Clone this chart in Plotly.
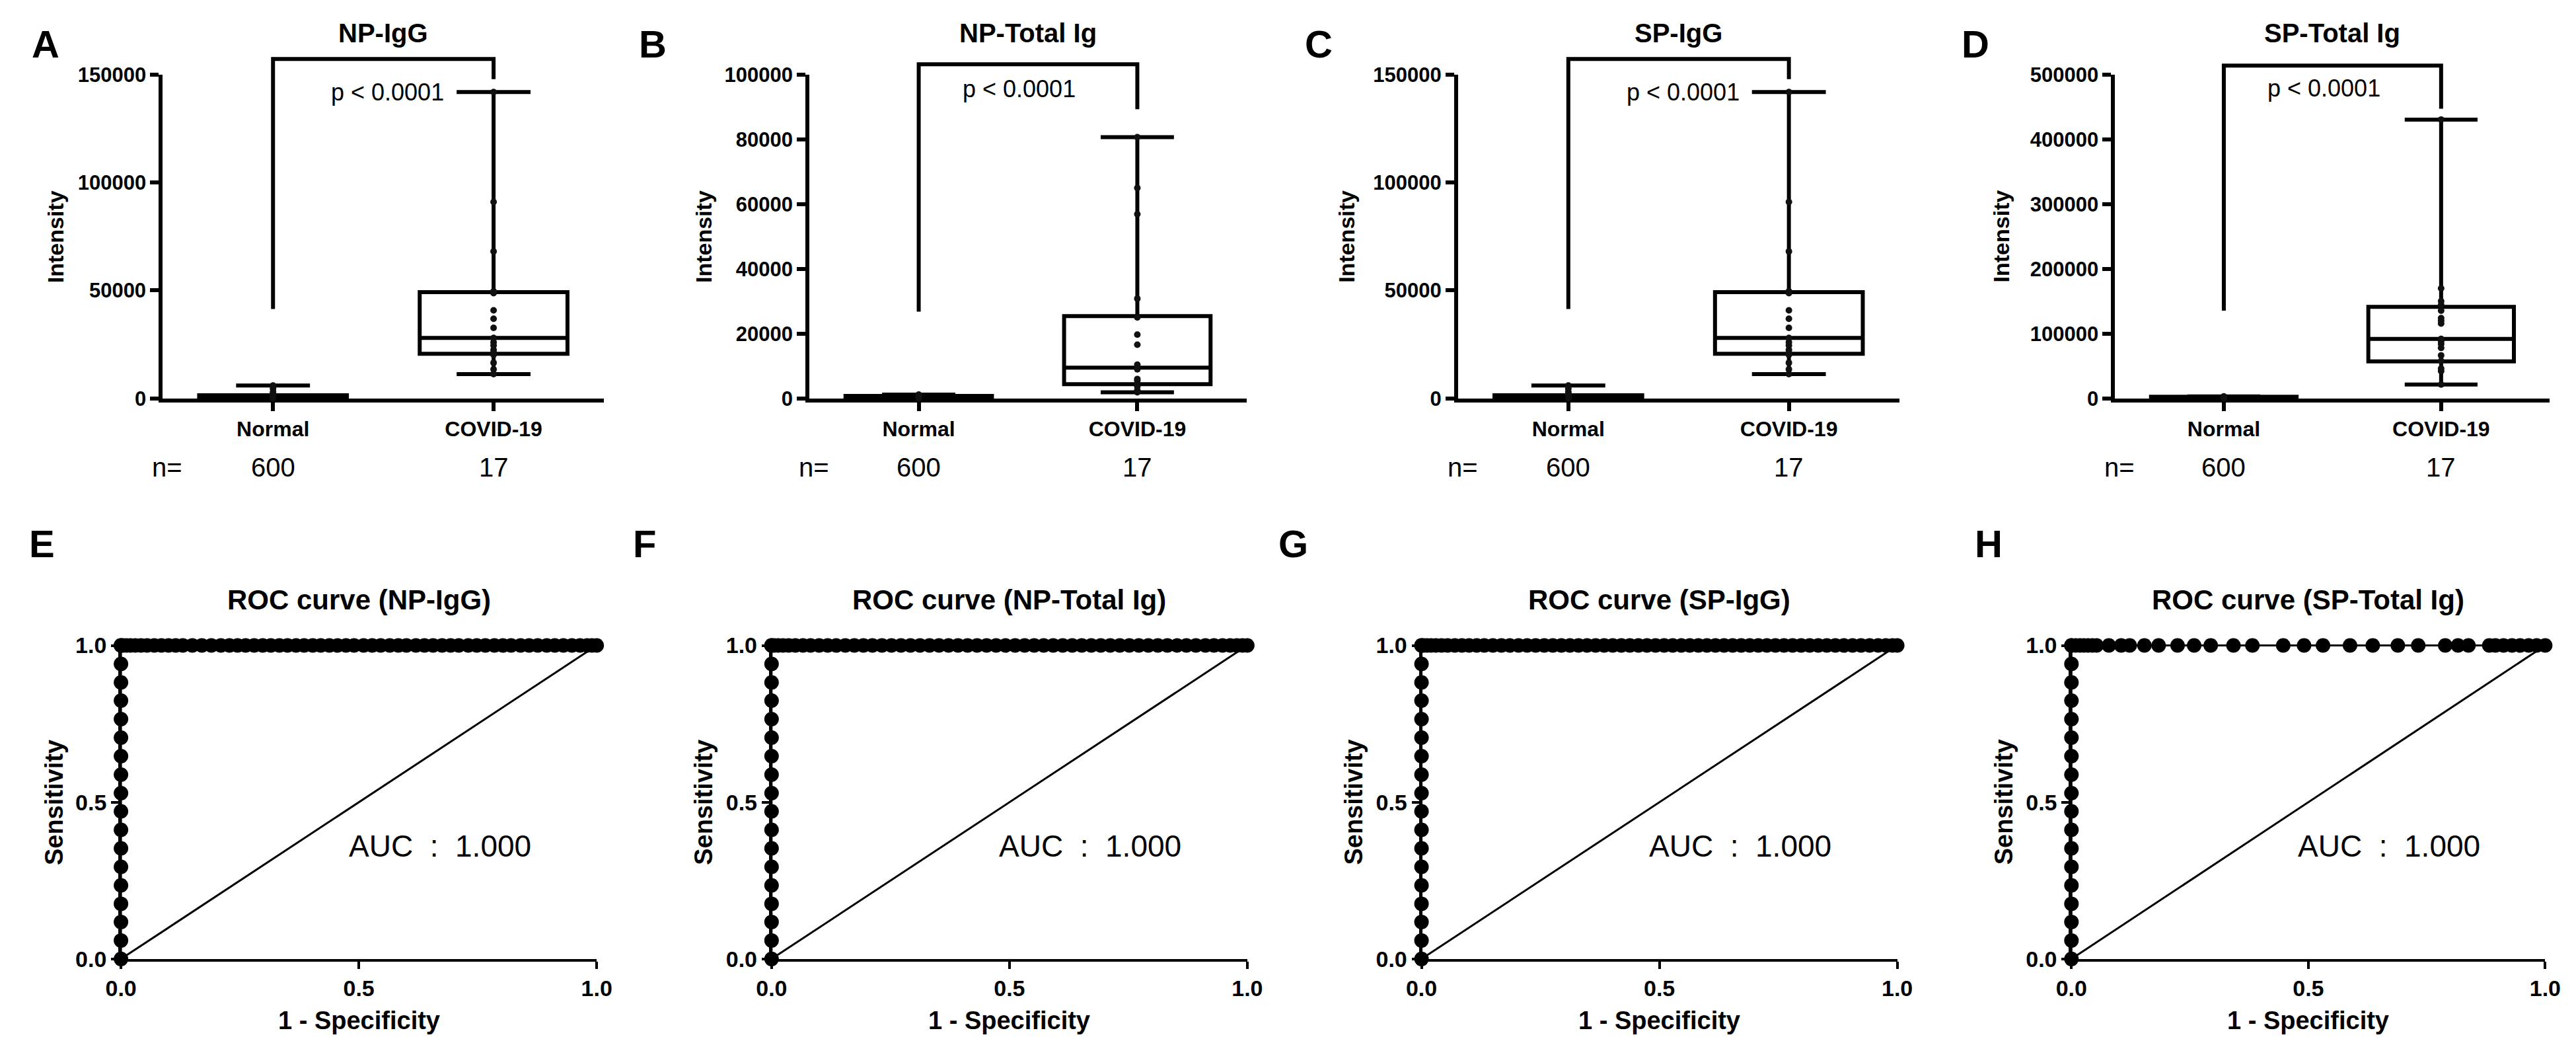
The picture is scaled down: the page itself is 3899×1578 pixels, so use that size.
import plotly.graph_objects as go

W, H = 3899, 1578
FONT = "Liberation Sans, Arial, sans-serif"

categories = ["Normal", "COVID-19"]
group_n = [600, 17]

box_titles = ["NP-IgG", "NP-Total Ig", "SP-IgG", "SP-Total Ig"]
roc_titles = ["ROC curve (NP-IgG)", "ROC curve (NP-Total Ig)", "ROC curve (SP-IgG)", "ROC curve (SP-Total Ig)"]
top_letters = ["A", "B", "C", "D"]
bottom_letters = ["E", "F", "G", "H"]
y_max = [150000, 100000, 150000, 500000]
y_step = [50000, 20000, 50000, 100000]

# box stats: [min, q1, median, q3, max]
np_igg_normal_box = [0, 0, 400, 1500, 6000]
np_igg_covid_box = [11300, 20700, 28000, 49200, 141900]
np_total_normal_box = [0, 100, 300, 800, 1200]
np_total_covid_box = [1900, 4400, 9500, 25400, 80700]
sp_igg_normal_box = [0, 0, 400, 1500, 6000]
sp_igg_covid_box = [11300, 20700, 28000, 49200, 141900]
sp_total_normal_box = [0, 0, 300, 2500, 3000]
sp_total_covid_box = [21400, 57100, 91800, 141500, 430600]

# individual points (normal group: only the visible cluster near zero)
np_igg_normal_pts = [0, 200, 400, 700, 1000, 1500, 2200, 3000, 4500, 6000]
np_igg_covid_pts = [11300, 13500, 16500, 20200, 21200, 22500, 24500, 26000, 28000,
                    32700, 36900, 40800, 48800, 49600, 68100, 91000, 141900]
np_total_normal_pts = [0, 150, 300, 500, 700, 900, 1200]
np_total_covid_pts = [1900, 2500, 3700, 4200, 4600, 5500, 6000, 9000, 9500,
                      10400, 16600, 19700, 25000, 30800, 56900, 65000, 80700]
sp_igg_normal_pts = [0, 200, 400, 700, 1000, 1500, 2200, 3000, 4500, 6000]
sp_igg_covid_pts = [11300, 13500, 16500, 20200, 21200, 22500, 24500, 26000, 28000,
                    32700, 36900, 40800, 48800, 49600, 68100, 91000, 141900]
sp_total_normal_pts = [0, 300, 800, 1500, 2200, 3000]
sp_total_covid_pts = [21400, 42200, 46200, 58000, 66500, 78000, 84000, 88000, 91800,
                      115700, 120000, 124100, 135500, 144500, 150000, 170000, 430600]

# significance bracket: [left foot, top, right foot]
brackets = [[41400, 157200, 147900], [26800, 103200, 89300],
            [41400, 157200, 147900], [135500, 513900, 447400]]
p_label = "p < 0.0001"
p_pos = [[0.52, 141900], [0.46, 95600], [0.52, 141900], [0.46, 479000]]

# ROC: sensitivity steps on the 0 line, then 1 - specificity points on the 1.0 line
roc_sens = [0, 0.059, 0.118, 0.176, 0.235, 0.294, 0.353, 0.412, 0.471, 0.529,
            0.588, 0.647, 0.706, 0.765, 0.824, 0.882, 0.941, 1.0]
roc_fpr_np_igg = [0.0, 0.005, 0.012, 0.02, 0.03, 0.042, 0.055, 0.07, 0.085, 0.1, 0.115,
                  0.13, 0.15, 0.17, 0.19, 0.21, 0.228, 0.245, 0.262, 0.28, 0.298, 0.315,
                  0.333, 0.35, 0.368, 0.385, 0.403, 0.42, 0.438, 0.455, 0.473, 0.49, 0.51,
                  0.528, 0.546, 0.565, 0.583, 0.6, 0.62, 0.638, 0.656, 0.675, 0.693, 0.71,
                  0.73, 0.748, 0.766, 0.785, 0.803, 0.82, 0.84, 0.858, 0.876, 0.895, 0.912,
                  0.93, 0.948, 0.965, 0.98, 0.99, 1.0]
roc_fpr_np_total = [0.0, 0.006, 0.014, 0.024, 0.036, 0.05, 0.066, 0.082, 0.1, 0.118,
                    0.136, 0.155, 0.174, 0.193, 0.212, 0.232, 0.252, 0.272, 0.292, 0.312,
                    0.332, 0.352, 0.372, 0.392, 0.412, 0.432, 0.452, 0.472, 0.492, 0.512,
                    0.532, 0.552, 0.572, 0.592, 0.612, 0.632, 0.652, 0.672, 0.692, 0.712,
                    0.732, 0.752, 0.772, 0.792, 0.812, 0.832, 0.852, 0.872, 0.892, 0.912,
                    0.93, 0.948, 0.964, 0.978, 0.99, 1.0]
roc_fpr_sp_igg = [0.0, 0.005, 0.012, 0.02, 0.03, 0.042, 0.055, 0.07, 0.085, 0.1, 0.116,
                  0.132, 0.15, 0.168, 0.186, 0.204, 0.222, 0.24, 0.258, 0.276, 0.294, 0.312,
                  0.33, 0.348, 0.366, 0.384, 0.402, 0.42, 0.438, 0.456, 0.474, 0.492, 0.51,
                  0.528, 0.546, 0.564, 0.582, 0.6, 0.618, 0.636, 0.654, 0.672, 0.69, 0.708,
                  0.726, 0.744, 0.762, 0.78, 0.798, 0.816, 0.834, 0.852, 0.87, 0.888, 0.906,
                  0.924, 0.942, 0.96, 0.976, 0.99, 1.0]
roc_fpr_sp_total = [0.0, 0.009, 0.018, 0.026, 0.035, 0.044, 0.053, 0.079, 0.105, 0.123,
                    0.154, 0.184, 0.224, 0.259, 0.294, 0.342, 0.382, 0.447, 0.491, 0.531,
                    0.588, 0.636, 0.689, 0.732, 0.789, 0.816, 0.838, 0.882, 0.895, 0.912,
                    0.93, 0.947, 0.965, 0.982, 1.0]
chance_line = [0, 1]
auc_values = [1.000, 1.000, 1.000, 1.000]
auc_pos = [0.67, 0.36]

box_sets = [
    (np_igg_normal_box, np_igg_covid_box, np_igg_normal_pts, np_igg_covid_pts),
    (np_total_normal_box, np_total_covid_box, np_total_normal_pts, np_total_covid_pts),
    (sp_igg_normal_box, sp_igg_covid_box, sp_igg_normal_pts, sp_igg_covid_pts),
    (sp_total_normal_box, sp_total_covid_box, sp_total_normal_pts, sp_total_covid_pts),
]
roc_sets = [roc_fpr_np_igg, roc_fpr_np_total, roc_fpr_sp_igg, roc_fpr_sp_total]

# pixel frames of the plotting areas
box_px_x = [(217, 893), (1208, 1878), (2202, 2878), (3209, 3875)]
box_px_y = (88, 590)
roc_px_x = [(153, 882), (1150, 1879), (2146, 2875), (3142, 3868)]
roc_px_y = (973, 1459)
letter_top_x = [37, 968, 1988, 2995]
letter_bot_x = [32, 955, 1950, 3015]
ytitle_box_x = [52, 1046, 2031, 3034]
ytitle_roc_x = [50, 1046, 2042, 3038]


def fx(p):
    return p / W


def fy(p):
    return 1 - p / H


fig = go.Figure()
layout = {}
annotations = []


def note(x, y, text, size, xref="paper", yref="paper", angle=0):
    annotations.append(dict(x=x, y=y, xref=xref, yref=yref, text=text, textangle=angle,
                            showarrow=False, xanchor="center", yanchor="middle",
                            font=dict(family=FONT, size=size, color="black")))


def make_axes(idx, xpx, ypx, xr, yr, pads):
    """hidden (unclipped) data axis pair idx + 8 lined up with visible pair idx"""
    x0, x1 = xpx
    yt, yb = ypx
    pl, pr, pt, pb = pads
    sx = (xr[1] - xr[0]) / (x1 - x0)
    sy = (yr[1] - yr[0]) / (yb - yt)
    h = idx + 8
    layout[f"xaxis{h}"] = dict(domain=[fx(x0 - pl), fx(x1 + pr)],
                               range=[xr[0] - pl * sx, xr[1] + pr * sx],
                               visible=False, anchor=f"y{h}", fixedrange=True)
    layout[f"yaxis{h}"] = dict(domain=[fy(yb + pb), fy(yt - pt)],
                               range=[yr[0] - pb * sy, yr[1] + pt * sy],
                               visible=False, anchor=f"x{h}", fixedrange=True)
    # empty trace so the visible pair is drawn
    fig.add_trace(go.Scatter(x=[None], y=[None], showlegend=False, hoverinfo="skip",
                             xaxis=f"x{idx}" if idx > 1 else "x",
                             yaxis=f"y{idx}" if idx > 1 else "y"))
    return f"x{h}", f"y{h}"


def axis_style(lw, tl, fs):
    return dict(showline=True, linewidth=lw, linecolor="black", ticks="outside",
                ticklen=tl, tickwidth=lw, tickcolor="black", showgrid=False,
                zeroline=False, fixedrange=True,
                tickfont=dict(family=FONT, size=fs, color="black", weight="bold"))


# ---- box & whisker panels ----
for i in range(4):
    vi = i + 1
    x0, x1 = box_px_x[i]
    yt, yb = box_px_y
    layout[f"xaxis{vi}"] = dict(domain=[fx(x0), fx(x1)], range=[-0.5, 1.5],
                                tickvals=list(range(len(categories))), ticktext=categories,
                                anchor=f"y{vi}", **axis_style(6, 13, 32))
    layout[f"yaxis{vi}"] = dict(domain=[fy(yb), fy(yt)], range=[0, y_max[i]],
                                dtick=y_step[i], tick0=0, tickformat="d",
                                anchor=f"x{vi}", **axis_style(6, 13, 31))
    xa, ya = make_axes(vi, (x0, x1), (yt, yb), [-0.5, 1.5], [0, y_max[i]], (20, 20, 70, 20))

    normal_box, covid_box, normal_pts, covid_pts = box_sets[i]
    for k, st in enumerate([normal_box, covid_box]):
        fig.add_trace(go.Box(x=[k], lowerfence=[st[0]], q1=[st[1]], median=[st[2]],
                             q3=[st[3]], upperfence=[st[4]], width=0.67, whiskerwidth=0.5,
                             fillcolor="white", line=dict(color="black", width=6),
                             boxpoints=False, showlegend=False, hoverinfo="skip",
                             xaxis=xa, yaxis=ya))
    for k, pts in enumerate([normal_pts, covid_pts]):
        fig.add_trace(go.Scatter(x=[k] * len(pts), y=pts, mode="markers",
                                 marker=dict(color="#111", size=10),
                                 showlegend=False, hoverinfo="skip", xaxis=xa, yaxis=ya))
    b = brackets[i]
    fig.add_trace(go.Scatter(x=[0, 0, len(categories) - 1, len(categories) - 1],
                             y=[b[0], b[1], b[1], b[2]], mode="lines",
                             line=dict(color="black", width=6),
                             showlegend=False, hoverinfo="skip", xaxis=xa, yaxis=ya))
    note(p_pos[i][0], p_pos[i][1], p_label, 36, xref=xa, yref=ya)
    note((x0 + x1) / 2 / W, fy(24), f"<b>{box_titles[i]}</b>", 40)
    note(fx(letter_top_x[i]), fy(40), f"<b>{top_letters[i]}</b>", 58)
    note(fx(ytitle_box_x[i]), fy((yt + yb) / 2), "<b>Intensity</b>", 34, angle=-90)
    note(-0.48, fy(697), "n=", 40, xref=f"x{vi}")
    for k, n in enumerate(group_n):
        note(k, fy(697), str(n), 40, xref=f"x{vi}")

# ---- ROC panels ----
for i in range(4):
    vi = i + 5
    x0, x1 = roc_px_x[i]
    yt, yb = roc_px_y
    layout[f"xaxis{vi}"] = dict(domain=[fx(x0), fx(x1)], range=[0, 1], dtick=0.5, tick0=0,
                                tickformat=".1f", anchor=f"y{vi}", **axis_style(4, 11, 34))
    layout[f"yaxis{vi}"] = dict(domain=[fy(yb), fy(yt)], range=[0, 1], dtick=0.5, tick0=0,
                                tickformat=".1f", anchor=f"x{vi}", **axis_style(4, 11, 34))
    xa, ya = make_axes(vi, (x0, x1), (yt, yb), [0, 1], [0, 1], (20, 20, 20, 20))

    fig.add_trace(go.Scatter(x=chance_line, y=chance_line, mode="lines",
                             line=dict(color="black", width=3),
                             showlegend=False, hoverinfo="skip", xaxis=xa, yaxis=ya))
    fpr = roc_sets[i]
    fig.add_trace(go.Scatter(x=[0] * len(roc_sens) + fpr, y=roc_sens + [1] * len(fpr),
                             mode="lines+markers", line=dict(color="black", width=3),
                             marker=dict(color="black", size=22),
                             showlegend=False, hoverinfo="skip", xaxis=xa, yaxis=ya))
    note(auc_pos[0], auc_pos[1], f"AUC\u00a0\u00a0:\u00a0\u00a0{auc_values[i]:.3f}", 46,
         xref=xa, yref=ya)
    note((x0 + x1) / 2 / W, fy(902), f"<b>{roc_titles[i]}</b>", 42)
    note(fx(letter_bot_x[i]), fy(815), f"<b>{bottom_letters[i]}</b>", 58)
    note(fx(ytitle_roc_x[i]), fy((yt + yb) / 2), "<b>Sensitivity</b>", 38, angle=-90)
    note((x0 + x1) / 2 / W, fy(1554), "<b>1 - Specificity</b>", 38)

fig.update_layout(**layout)
fig.update_layout(width=W, height=H, margin=dict(l=0, r=0, t=0, b=0),
                  paper_bgcolor="white", plot_bgcolor="rgba(0,0,0,0)",
                  showlegend=False, annotations=annotations,
                  font=dict(family=FONT, color="black"))
fig.write_html("out.html")
